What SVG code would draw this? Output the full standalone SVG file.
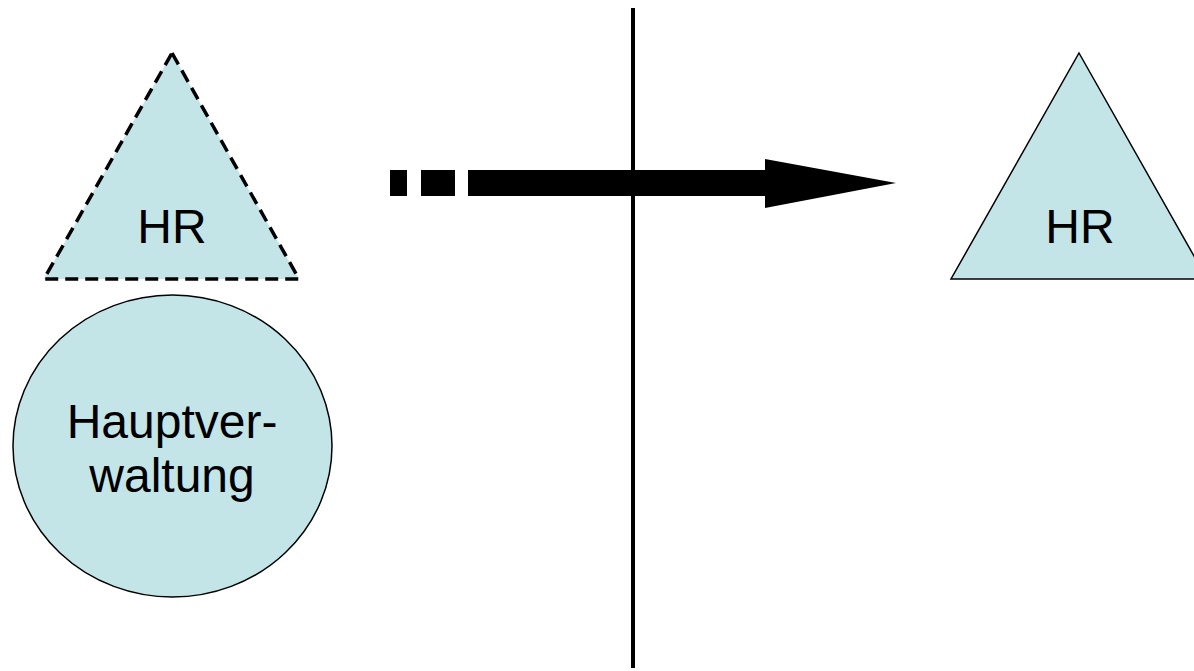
<svg xmlns="http://www.w3.org/2000/svg" width="1194" height="671" viewBox="0 0 1194 671">
<style>
.shape{fill:#C4E5E8;stroke:#000;stroke-width:1.5}
.dash{stroke-width:3.5;stroke-dasharray:13 7}
.lbl{font-family:"Liberation Sans",Arial,sans-serif;font-size:48px;fill:#000;text-anchor:middle}
</style>
<rect width="1194" height="671" fill="#fff"/>
<g id="divider">
<line x1="633" y1="8" x2="633" y2="668" stroke="#000" stroke-width="4"/>
</g>
<g id="hr-left">
<polygon class="shape dash" points="172,53 299,279 44,279"/>
<text class="lbl" x="172" y="243">HR</text>
</g>
<g id="hauptverwaltung">
<ellipse class="shape" cx="172.5" cy="446" rx="159.5" ry="151"/>
<text class="lbl" x="172" y="438">Hauptver-</text>
<text class="lbl" x="172" y="492">waltung</text>
</g>
<g id="hr-right">
<polygon class="shape" points="1079,53 1207,279 951,279"/>
<text class="lbl" x="1080" y="243">HR</text>
</g>
<g id="connectors">
<rect x="390" y="170" width="17" height="26" fill="#000"/>
<rect x="421" y="170" width="34" height="26" fill="#000"/>
<polygon points="468,170 765,170 765,159 896,183 765,208 765,196 468,196" fill="#000"/>
</g>
</svg>
